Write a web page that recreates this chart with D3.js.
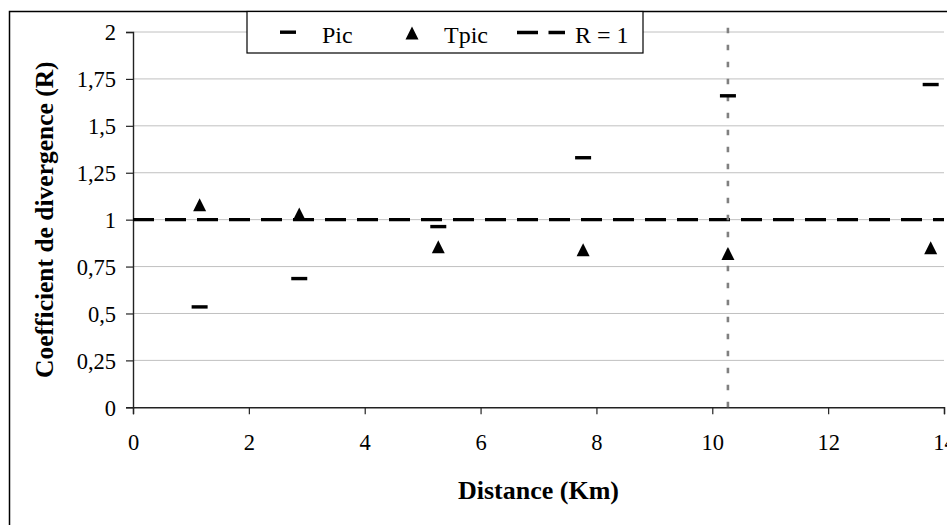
<!DOCTYPE html>
<html>
<head>
<meta charset="utf-8">
<script src="https://cdn.jsdelivr.net/npm/d3@7"></script>
<style>
  body { margin: 0; background: #fff; }
  svg text { font-family: "Liberation Serif", "Times New Roman", serif; fill: #000; }
</style>
</head>
<body>
<svg id="chart" width="947" height="525"></svg>
<script>
// Data
const distances = [1.15, 2.87, 5.27, 7.77, 10.27, 13.77];
const picValues = [0.535, 0.686, 0.963, 1.33, 1.66, 1.72];
const tpicValues = [1.08, 1.03, 0.856, 0.84, 0.82, 0.85];
const xTicks = [0, 2, 4, 6, 8, 10, 12, 14];
const yTicks = [0, 0.25, 0.5, 0.75, 1, 1.25, 1.5, 1.75, 2];
const refValue = 1;          // R = 1 line
const limitDistance = 10.27; // vertical dotted line
const limitTop = 2.035;
const legendNames = ['Pic', 'Tpic', 'R = 1'];

const svg = d3.select('#chart');

// plot area
const plotLeft = 133, plotRight = 944, plotTop = 32, plotBottom = 407.3;

const x = d3.scaleLinear().domain([0, 14]).range([plotLeft, plotRight]);
const y = d3.scaleLinear().domain([0, 2]).range([plotBottom, plotTop]);

const fmt = d => String(d).replace('.', ',');

// outer chart border (cropped at right and bottom)
svg.append('rect')
    .attr('x', 9.5).attr('y', 11.5)
    .attr('width', 960).attr('height', 540)
    .attr('fill', 'none')
    .attr('stroke', '#000')
    .attr('stroke-width', 1.5);

// gridlines
svg.append('g')
    .selectAll('line')
    .data(yTicks.filter(d => d > 0))
    .enter()
    .append('line')
    .attr('x1', plotLeft).attr('x2', plotRight)
    .attr('y1', d => y(d)).attr('y2', d => y(d))
    .attr('stroke', '#c0c0c0')
    .attr('stroke-width', 1);

// axes
const xAxis = svg.append('g')
    .attr('transform', `translate(0,${plotBottom})`)
    .call(d3.axisBottom(x).tickValues(xTicks).tickSize(7).tickPadding(20).tickFormat(fmt));

const yAxis = svg.append('g')
    .attr('transform', `translate(${plotLeft},0)`)
    .call(d3.axisLeft(y).tickValues(yTicks).tickSize(7).tickPadding(10).tickFormat(fmt));

[xAxis, yAxis].forEach(g => {
    g.select('.domain').attr('stroke', '#222').attr('stroke-width', 1.4);
    g.selectAll('.tick line').attr('stroke', '#222').attr('stroke-width', 1.2);
    g.selectAll('.tick text')
        .attr('font-family', '"Liberation Serif", "Times New Roman", serif')
        .attr('font-size', 22.5)
        .attr('fill', '#000');
});
yAxis.selectAll('.tick text').attr('dy', '0.35em');

// R = 1 dashed line
svg.append('line')
    .attr('x1', x(0)).attr('x2', x(14))
    .attr('y1', y(refValue)).attr('y2', y(refValue))
    .attr('stroke', '#000')
    .attr('stroke-width', 3.3)
    .attr('stroke-dasharray', '21,11');

// vertical dotted line
svg.append('line')
    .attr('x1', x(limitDistance)).attr('x2', x(limitDistance))
    .attr('y1', y(0)).attr('y2', y(limitTop))
    .attr('stroke', '#808080')
    .attr('stroke-width', 2.6)
    .attr('stroke-dasharray', '5.5,11.5');

// Pic markers (short dashes)
const points = distances.map((d, i) => ({ dist: d, pic: picValues[i], tpic: tpicValues[i] }));

svg.selectAll('.pic')
    .data(points)
    .enter()
    .append('rect')
    .attr('class', 'pic')
    .attr('x', d => x(d.dist) - 8)
    .attr('y', d => y(d.pic) - 1.7)
    .attr('width', 16)
    .attr('height', 3.4)
    .attr('fill', '#000');

// Tpic markers (triangles)
const tri = (cx, cy, s) => `M${cx},${cy - s / 2}L${cx + s / 2},${cy + s / 2}L${cx - s / 2},${cy + s / 2}Z`;

svg.selectAll('.tpic')
    .data(points)
    .enter()
    .append('path')
    .attr('class', 'tpic')
    .attr('d', d => tri(x(d.dist), y(d.tpic), 13))
    .attr('fill', '#000');

// axis titles
svg.append('text')
    .attr('x', (plotLeft + plotRight) / 2)
    .attr('y', 499)
    .attr('text-anchor', 'middle')
    .attr('font-size', 26)
    .attr('font-weight', 'bold')
    .text('Distance (Km)');

svg.append('text')
    .attr('transform', `translate(53,${(plotTop + plotBottom) / 2}) rotate(-90)`)
    .attr('text-anchor', 'middle')
    .attr('font-size', 25.5)
    .attr('font-weight', 'bold')
    .text('Coefficient de divergence (R)');

// legend
const legend = svg.append('g');
legend.append('rect')
    .attr('x', 247).attr('y', 11.5)
    .attr('width', 396).attr('height', 41.5)
    .attr('fill', '#fff')
    .attr('stroke', '#000')
    .attr('stroke-width', 1.2);

legend.append('rect')
    .attr('x', 280).attr('y', 30.5)
    .attr('width', 16).attr('height', 3.4)
    .attr('fill', '#000');
legend.append('path')
    .attr('d', tri(412, 33, 13))
    .attr('fill', '#000');
legend.append('line')
    .attr('x1', 517).attr('x2', 565)
    .attr('y1', 32.5).attr('y2', 32.5)
    .attr('stroke', '#000')
    .attr('stroke-width', 3.3)
    .attr('stroke-dasharray', '21,10.5');

legend.selectAll('.legend-label')
    .data(legendNames)
    .enter()
    .append('text')
    .attr('class', 'legend-label')
    .attr('x', (d, i) => [322, 444, 575][i])
    .attr('y', 42.5)
    .attr('font-size', 24)
    .text(d => d);
</script>
</body>
</html>
